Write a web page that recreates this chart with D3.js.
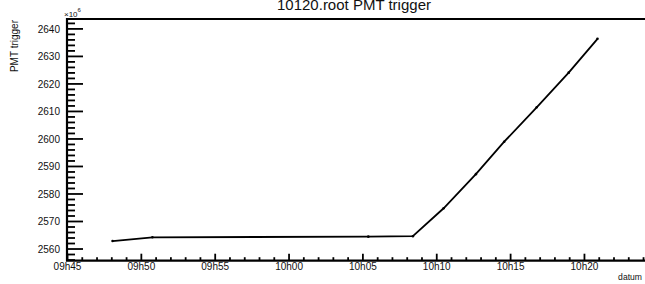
<!DOCTYPE html>
<html>
<head>
<meta charset="utf-8">
<script src="https://cdn.jsdelivr.net/npm/d3@7"></script>
<style>
  html, body { margin: 0; padding: 0; background: #fff; }
  svg { display: block; font-family: "Liberation Sans", Arial, sans-serif; }
</style>
</head>
<body>
<svg id="chart" width="645" height="284"></svg>
<script>
// PMT trigger counter vs time (values in units of 10^6)
const times = ["09:48:03", "09:50:45", "10:05:22", "10:08:23", "10:10:28",
               "10:12:39", "10:14:34", "10:16:46", "10:18:56", "10:20:53"];
const values = [2562.9, 2564.25, 2564.5, 2564.65, 2574.8,
                2587.2, 2599.0, 2611.5, 2624.1, 2636.4];
const xDomain = ["09:44:58", "10:24:10"];
const yDomain = [2555.75, 2643.6];
const yMajorTicks = [2560, 2570, 2580, 2590, 2600, 2610, 2620, 2630, 2640];

const parseTime = d3.timeParse("%H:%M:%S");
const fmtTime = d3.timeFormat("%Hh%M");

const svg = d3.select("#chart");
const frameL = 67, frameR = 646, frameT = 19, frameB = 260.7;

const x = d3.scaleTime().domain(xDomain.map(parseTime)).range([frameL, frameR]);
const y = d3.scaleLinear().domain(yDomain).range([frameB, frameT]);

const points = times.map((t, i) => ({ t: parseTime(t), v: values[i] }));

// title (top is cut off by the canvas edge, as in the original)
svg.append("text")
  .attr("x", 354).attr("y", 10)
  .attr("text-anchor", "middle")
  .attr("font-size", 15)
  .attr("fill", "#111")
  .text("10120.root PMT trigger");

// y axis: major and minor ticks drawn inward
const yMinor = d3.range(2556, 2644, 2).filter((v) => v % 10 !== 0);
const gY = svg.append("g");
gY.selectAll("line.minor").data(yMinor).enter().append("line")
  .attr("x1", frameL).attr("x2", frameL + 8)
  .attr("y1", (d) => y(d)).attr("y2", (d) => y(d))
  .attr("stroke", "#000").attr("stroke-width", 1.8);
gY.selectAll("line.major").data(yMajorTicks).enter().append("line")
  .attr("x1", frameL).attr("x2", frameL + 16)
  .attr("y1", (d) => y(d)).attr("y2", (d) => y(d))
  .attr("stroke", "#000").attr("stroke-width", 1.8);
gY.selectAll("text").data(yMajorTicks).enter().append("text")
  .attr("x", frameL - 7).attr("y", (d) => y(d) + 3.6)
  .attr("text-anchor", "end")
  .attr("font-size", 10)
  .attr("fill", "#111")
  .text((d) => d);

// x axis ticks (every minute, labelled every 5)
const xTicks = x.ticks(d3.timeMinute.every(1));
const gX = svg.append("g");
gX.selectAll("line").data(xTicks).enter().append("line")
  .attr("x1", (d) => x(d)).attr("x2", (d) => x(d))
  .attr("y1", frameB)
  .attr("y2", (d) => frameB - (d.getMinutes() % 5 === 0 ? 7 : 3.5))
  .attr("stroke", "#000").attr("stroke-width", 1.8);
gX.selectAll("text").data(xTicks.filter((d) => d.getMinutes() % 5 === 0)).enter().append("text")
  .attr("x", (d) => x(d)).attr("y", 269.5)
  .attr("text-anchor", "middle")
  .attr("font-size", 10)
  .attr("fill", "#111")
  .text((d) => fmtTime(d));

// frame
svg.append("path")
  .attr("d", `M${frameR},${frameT}H${frameL}V${frameB}H${frameR}`)
  .attr("fill", "none").attr("stroke", "#000").attr("stroke-width", 2.2);

// exponent label
const expo = svg.append("text")
  .attr("x", 64).attr("y", 16.5)
  .attr("font-size", 8)
  .attr("fill", "#111");
expo.append("tspan").text("\u00d710");
expo.append("tspan").attr("dy", -5).attr("font-size", 6).text("6");

// axis titles
svg.append("text")
  .attr("transform", "translate(18,20) rotate(-90)")
  .attr("text-anchor", "end")
  .attr("font-size", 10)
  .attr("fill", "#111")
  .text("PMT trigger");

svg.append("text")
  .attr("x", 642).attr("y", 280)
  .attr("text-anchor", "end")
  .attr("font-size", 8.6)
  .attr("fill", "#111")
  .text("datum");

// data line + markers
const line = d3.line().x((d) => x(d.t)).y((d) => y(d.v));
svg.append("path")
  .datum(points)
  .attr("d", line)
  .attr("fill", "none")
  .attr("stroke", "#000")
  .attr("stroke-width", 1.8);

svg.selectAll("circle.pt").data(points).enter().append("circle")
  .attr("cx", (d) => x(d.t)).attr("cy", (d) => y(d.v))
  .attr("r", 1.3)
  .attr("fill", "#000");
</script>
</body>
</html>
